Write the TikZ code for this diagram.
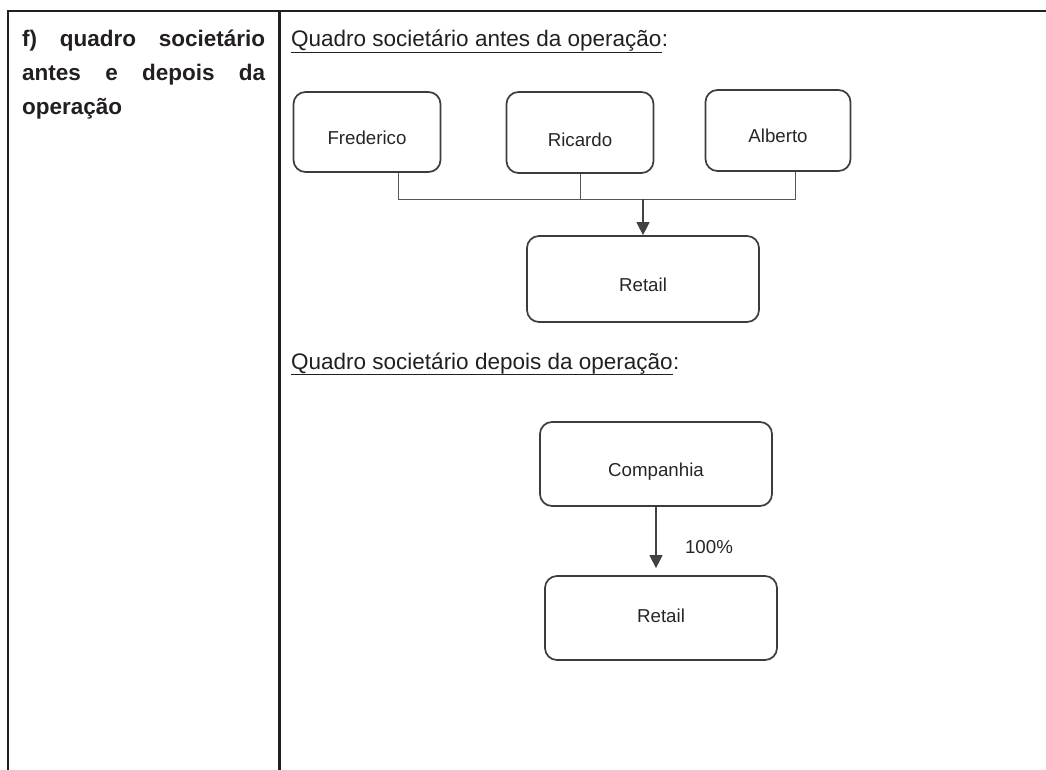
\documentclass[tikz,border=0pt]{standalone}
\usepackage{fontspec}
\setmainfont{Liberation Sans}
\usetikzlibrary{arrows.meta,calc}
\definecolor{ink}{HTML}{231F20}
\definecolor{boxline}{HTML}{3C3C3C}
\definecolor{conn}{HTML}{555555}
\definecolor{boxink}{HTML}{262626}
\hbadness=10000
\tikzset{
 rule/.style={line width=2.3pt, draw=ink},
 orgbox/.style={draw=boxline, line width=1.7pt, rounded corners=12pt, inner sep=0pt},
 boxtext/.style={text=boxink, font=\fontsize{18.7}{22}\selectfont, inner sep=0pt},
 head/.style={anchor=base west, inner sep=0pt, text=ink, font=\fontsize{22.5}{27}\selectfont},
 lefttext/.style={anchor=base west, inner sep=0pt, text=ink, font=\fontsize{22.5}{27}\selectfont\bfseries},
 uline/.style={draw=ink, line width=1.5pt},
 bus/.style={draw=conn, line width=1pt},
 arrowline/.style={draw=ink!85, line width=1.2pt, -{Triangle[length=13pt,width=13pt]}},
}
\begin{document}
\begin{tikzpicture}[x=1pt,y=-1pt]
\useasboundingbox (0,0) rectangle (1046,770);
% table rules
\coordinate (tl) at (8,11);
\coordinate (tr) at (1050,11);
\coordinate (bl) at (8,772);
\coordinate (dt) at (279.5,11);
\coordinate (db) at (279.5,772);
\draw[rule] (tr) -- (tl) -- (bl);
\draw[rule] (dt) -- (db);
% left cell
\node[lefttext] (l1) at (22,46.5) {\makebox[243pt][s]{f) quadro societário}};
\node[lefttext] (l2) at (22,81) {\makebox[243pt][s]{antes e depois da}};
\node[lefttext] (l3) at (22,115) {operação};
% headings
\node[head] (h1) at (291,47) {Quadro societário antes da operação};
\node[head, anchor=base west] (h1c) at (h1.base east) {:};
\draw[uline] ($(h1.base west)+(0,5.5)$) -- ($(h1.base east)+(0,5.5)$);
\node[head] (h2) at (291,369) {Quadro societário depois da operação};
\node[head, anchor=base west] (h2c) at (h2.base east) {:};
\draw[uline] ($(h2.base west)+(0,5.5)$) -- ($(h2.base east)+(0,5.5)$);
% before
\node[orgbox, minimum width=147pt, minimum height=80pt] (fred) at (367,132) {};
\node[boxtext] (fredt) at (367,137.5) {Frederico};
\node[orgbox, minimum width=147pt, minimum height=81pt] (ric) at (580,132.5) {};
\node[boxtext] (rict) at (580,139.5) {Ricardo};
\node[orgbox, minimum width=145pt, minimum height=81pt] (alb) at (778,130.5) {};
\node[boxtext] (albt) at (778,135.5) {Alberto};
\node[orgbox, minimum width=232pt, minimum height=86pt] (ret1) at (643,279) {};
\node[boxtext] (ret1t) at (643,285) {Retail};
\coordinate (bus1) at (398,199.5);
\coordinate (bus3) at (795,199.5);
\coordinate (busm) at (643,199.5);
\draw[bus] (fred.south -| bus1) -- (bus1) -- (bus3) -- (alb.south -| bus3);
\draw[bus] (ric.south) -- (ric.south |- bus1);
\draw[arrowline] (busm) -- (ret1.north);
% after
\node[orgbox, minimum width=232pt, minimum height=84pt] (comp) at (656,464) {};
\node[boxtext] (compt) at (656,472) {Companhia};
\node[orgbox, minimum width=232pt, minimum height=84pt] (ret2) at (661,618) {};
\node[boxtext] (ret2t) at (661,616) {Retail};
\draw[arrowline, shorten >=7pt] (comp.south) -- (comp.south |- ret2.north);
\node[boxtext] (pct) at (709,547.5) {100\%};
\end{tikzpicture}
\end{document}
